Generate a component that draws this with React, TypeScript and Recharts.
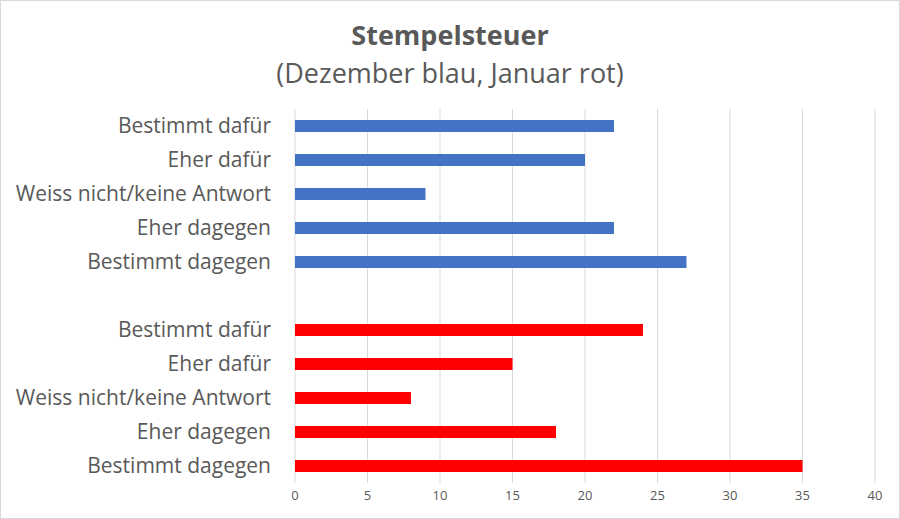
import React from "react";
import { BarChart, Bar, XAxis, YAxis, CartesianGrid } from "recharts";

const categories = [
  "Bestimmt dafür",
  "Eher dafür",
  "Weiss nicht/keine Antwort",
  "Eher dagegen",
  "Bestimmt dagegen",
];
const dezember = [22, 20, 9, 22, 27];
const januar = [24, 15, 8, 18, 35];
const xTicks = [0, 5, 10, 15, 20, 25, 30, 35, 40];

type Row = { key: string; label: string; dez: number | null; jan: number | null };

const rows: Row[] = [
  ...categories.map((c, i) => ({ key: "d" + i, label: c, dez: dezember[i], jan: null })),
  { key: "gap", label: "", dez: null, jan: null },
  ...categories.map((c, i) => ({ key: "j" + i, label: c, dez: null, jan: januar[i] })),
];

const labelMap: Record<string, string> = {};
rows.forEach((r) => (labelMap[r.key] = r.label));

const FONT = "'Open Sans', 'Noto Sans', sans-serif";
const GREY = "#595959";

export default function App() {
  return (
    <div
      style={{
        position: "absolute",
        left: 0,
        top: 0,
        width: 900,
        height: 519,
        boxSizing: "border-box",
        border: "1px solid #d9d9d9",
        background: "#fff",
        fontFamily: FONT,
      }}
    >
      <div
        style={{
          position: "absolute",
          left: 0,
          width: 898,
          top: 16,
          textAlign: "center",
          fontSize: 27,
          fontWeight: 700,
          color: GREY,
          lineHeight: "36px",
        }}
      >
        Stempelsteuer
      </div>
      <div
        style={{
          position: "absolute",
          left: 0,
          width: 898,
          top: 54,
          textAlign: "center",
          fontSize: 27,
          color: GREY,
          lineHeight: "36px",
        }}
      >
        (Dezember blau, Januar rot)
      </div>
      <div style={{ position: "absolute", left: -1, top: -1 }}>
        <BarChart
          width={900}
          height={519}
          data={rows}
          layout="vertical"
          margin={{ top: 109, right: 25, bottom: 6, left: 0 }}
          barCategoryGap={0}
        >
          <CartesianGrid horizontal={false} vertical={true} stroke="#d9d9d9" />
          <XAxis
            type="number"
            domain={[0, 40]}
            ticks={xTicks}
            interval={0}
            axisLine={false}
            tickLine={false}
            height={30}
            tick={{ fill: GREY, fontSize: 13, fontFamily: FONT }}
          />
          <YAxis
            type="category"
            dataKey="key"
            width={295}
            axisLine={false}
            tickLine={false}
            tickSize={6}
            tickMargin={18}
            interval={0}
            tickFormatter={(k: string) => labelMap[k] ?? ""}
            tick={{ fill: GREY, fontSize: 21, fontFamily: FONT }}
          />
          <Bar dataKey="dez" stackId="s" fill="#4472C4" barSize={12} isAnimationActive={false} />
          <Bar dataKey="jan" stackId="s" fill="#FF0000" barSize={12} isAnimationActive={false} />
        </BarChart>
      </div>
    </div>
  );
}
